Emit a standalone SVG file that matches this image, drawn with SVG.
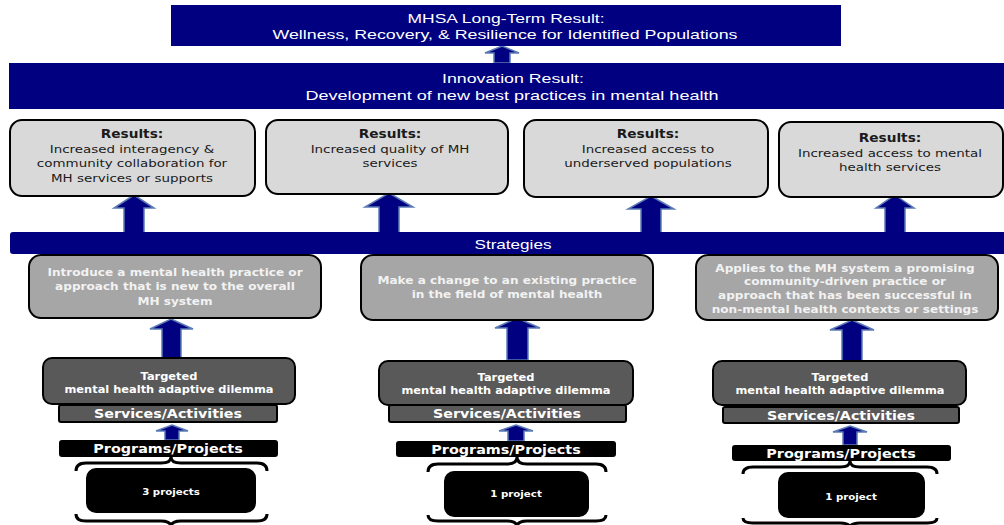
<svg xmlns="http://www.w3.org/2000/svg" width="1004" height="525" viewBox="0 0 1004 525">
<style>
.navy{fill:#000080}
.nt{fill:#ffffff;font-family:"Liberation Sans",Arial,sans-serif;font-size:13px;text-anchor:middle}
.res{fill:#d9d9d9;stroke:#000;stroke-width:2}
.rt{fill:#1a1a1a;font-family:"DejaVu Sans",sans-serif;font-size:11.3px;text-anchor:middle}
.rh{font-weight:bold;font-size:11.5px}
.str{fill:#a6a6a6;stroke:#000;stroke-width:2}
.st{fill:#f2f2f2;font-family:"DejaVu Sans",sans-serif;font-weight:bold;font-size:10px;text-anchor:middle}
.dil{fill:#595959;stroke:#000;stroke-width:2}
.dt{fill:#fff;font-family:"DejaVu Sans",sans-serif;font-weight:bold;font-size:10px;text-anchor:middle}
.svt{fill:#fff;font-family:"DejaVu Sans",sans-serif;font-weight:bold;font-size:12.5px;text-anchor:middle}
.blk{fill:#000}
.pt{fill:#fff;font-family:"DejaVu Sans",sans-serif;font-weight:bold;font-size:12.5px;text-anchor:middle}
.pj{fill:#fff;font-family:"DejaVu Sans",sans-serif;font-weight:bold;font-size:9px;text-anchor:middle}
.arr{fill:#000080;stroke:#5a7bb5;stroke-width:1.5}
.brace{fill:none;stroke:#000;stroke-width:3}
</style>

<g id="connectors">
  <path class="arr" d="M502,46 L519,53 L510,53 L510,63 L494,63 L494,53 L485,53 Z"/>
  <path class="arr" d="M134,195 L154,208 L144,208 L144,233 L124,233 L124,208 L114,208 Z"/>
  <path class="arr" d="M389,193 L413,207 L399,207 L399,233 L379,233 L379,207 L365,207 Z"/>
  <path class="arr" d="M651,196 L674,209 L661,209 L661,233 L641,233 L641,209 L628,209 Z"/>
  <path class="arr" d="M895,195 L914,208 L905,208 L905,257 L885,257 L885,208 L876,208 Z"/>
  <path class="arr" d="M171,319 L193,329 L181,329 L181,358 L162,358 L162,329 L150,329 Z"/>
  <path class="arr" d="M517,318 L540,328 L528,328 L528,360 L507,360 L507,328 L495,328 Z"/>
  <path class="arr" d="M852,320 L874,330 L862,330 L862,361 L842,361 L842,330 L830,330 Z"/>
  <path class="arr" d="M172,425 L188,431 L179,431 L179,440 L165,440 L165,431 L156,431 Z"/>
  <path class="arr" d="M516,425 L533,431 L524,431 L524,441 L508,441 L508,431 L499,431 Z"/>
  <path class="arr" d="M850,426 L867,432 L857,432 L857,445 L843,445 L843,432 L833,432 Z"/>
</g>

<g id="long-term-result">
  <rect class="navy" x="171" y="5" width="670" height="41"/>
  <text class="nt" x="506" y="23" textLength="197" lengthAdjust="spacingAndGlyphs">MHSA Long-Term Result:</text>
  <text class="nt" x="505" y="39" textLength="465" lengthAdjust="spacingAndGlyphs">Wellness, Recovery, &amp; Resilience for Identified Populations</text>
</g>

<g id="innovation-result">
  <rect class="navy" x="9" y="63" width="995" height="46"/>
  <text class="nt" x="513" y="83" textLength="142" lengthAdjust="spacingAndGlyphs">Innovation Result:</text>
  <text class="nt" x="512" y="100" textLength="413" lengthAdjust="spacingAndGlyphs">Development of new best practices in mental health</text>
</g>

<g id="result-1">
  <rect class="res" x="10" y="120" width="245" height="76" rx="12"/>
  <text class="rt rh" transform="translate(132,138) scale(1.19,1)">Results:</text>
  <text class="rt" transform="translate(132,153) scale(1.19,1)">Increased interagency &amp;</text>
  <text class="rt" transform="translate(132,167) scale(1.19,1)">community collaboration for</text>
  <text class="rt" transform="translate(132,182) scale(1.19,1)">MH services or supports</text>
</g>
<g id="result-2">
  <rect class="res" x="266" y="120" width="242" height="74" rx="12"/>
  <text class="rt rh" transform="translate(390,138) scale(1.19,1)">Results:</text>
  <text class="rt" transform="translate(390,153) scale(1.19,1)">Increased quality of MH</text>
  <text class="rt" transform="translate(390,167) scale(1.19,1)">services</text>
</g>
<g id="result-3">
  <rect class="res" x="524" y="120" width="244" height="77" rx="12"/>
  <text class="rt rh" transform="translate(648,138) scale(1.19,1)">Results:</text>
  <text class="rt" transform="translate(648,153) scale(1.19,1)">Increased access to</text>
  <text class="rt" transform="translate(648,167) scale(1.19,1)">underserved populations</text>
</g>
<g id="result-4">
  <rect class="res" x="779" y="122" width="224" height="75" rx="12"/>
  <text class="rt rh" transform="translate(890,142) scale(1.19,1)">Results:</text>
  <text class="rt" transform="translate(890,157) scale(1.19,1)">Increased access to mental</text>
  <text class="rt" transform="translate(890,171) scale(1.19,1)">health services</text>
</g>

<g id="strategies">
  <rect class="navy" x="10" y="232" width="1000" height="22" rx="3"/>
  <text class="nt" x="513" y="249" textLength="77" lengthAdjust="spacingAndGlyphs">Strategies</text>
</g>

<g id="strategy-1">
  <rect class="str" x="29" y="255" width="292" height="63" rx="12"/>
  <text class="st" transform="translate(175,276) scale(1.21,1)">Introduce a mental health practice or</text>
  <text class="st" transform="translate(175,290) scale(1.21,1)">approach that is new to the overall</text>
  <text class="st" transform="translate(175,305) scale(1.21,1)">MH system</text>
</g>
<g id="strategy-2">
  <rect class="str" x="361" y="255" width="292" height="65" rx="12"/>
  <text class="st" transform="translate(507,284) scale(1.21,1)">Make a change to an existing practice</text>
  <text class="st" transform="translate(507,298) scale(1.21,1)">in the field of mental health</text>
</g>
<g id="strategy-3">
  <rect class="str" x="696" y="255" width="302" height="65" rx="12"/>
  <text class="st" transform="translate(845,272) scale(1.21,1)">Applies to the MH system a promising</text>
  <text class="st" transform="translate(845,285) scale(1.21,1)">community-driven practice or</text>
  <text class="st" transform="translate(845,299) scale(1.21,1)">approach that has been successful in</text>
  <text class="st" transform="translate(845,313) scale(1.21,1)">non-mental health contexts or settings</text>
</g>

<g id="dilemma-1">
  <rect class="dil" x="43" y="358" width="252" height="46" rx="9"/>
  <text class="dt" transform="translate(169,380) scale(1.14,1)">Targeted</text>
  <text class="dt" transform="translate(169,393) scale(1.14,1)">mental health adaptive dilemma</text>
</g>
<g id="dilemma-2">
  <rect class="dil" x="379" y="361" width="254" height="44" rx="9"/>
  <text class="dt" transform="translate(506,381) scale(1.14,1)">Targeted</text>
  <text class="dt" transform="translate(506,394) scale(1.14,1)">mental health adaptive dilemma</text>
</g>
<g id="dilemma-3">
  <rect class="dil" x="713" y="361" width="253" height="44" rx="9"/>
  <text class="dt" transform="translate(840,381) scale(1.14,1)">Targeted</text>
  <text class="dt" transform="translate(840,394) scale(1.14,1)">mental health adaptive dilemma</text>
</g>

<g id="services-1">
  <rect class="dil" x="59" y="405" width="218" height="17" rx="2"/>
  <text class="svt" transform="translate(168,418) scale(1.14,1)">Services/Activities</text>
</g>
<g id="services-2">
  <rect class="dil" x="389" y="405" width="237" height="17" rx="2"/>
  <text class="svt" transform="translate(507,418) scale(1.14,1)">Services/Activities</text>
</g>
<g id="services-3">
  <rect class="dil" x="723" y="407" width="236" height="16" rx="2"/>
  <text class="svt" transform="translate(841,420) scale(1.14,1)">Services/Activities</text>
</g>

<g id="programs-1">
  <rect class="blk" x="59" y="440" width="219" height="17" rx="3"/>
  <text class="pt" transform="translate(168,453) scale(1.15,1)">Programs/Projects</text>
</g>
<g id="programs-2">
  <rect class="blk" x="396" y="441" width="220" height="16" rx="3"/>
  <text class="pt" transform="translate(506,454) scale(1.15,1)">Programs/Projects</text>
</g>
<g id="programs-3">
  <rect class="blk" x="732" y="445" width="219" height="16" rx="3"/>
  <text class="pt" transform="translate(841,458) scale(1.15,1)">Programs/Projects</text>
</g>

<g id="projects-1">
  <path class="brace" d="M76,471 Q76,463 86,463 L161,463 Q171,463 171,457 Q171,463 181,463 L257,463 Q267,463 267,471"/>
  <rect class="blk" x="86" y="468" width="170" height="45" rx="10"/>
  <text class="pj" transform="translate(171,495) scale(1.14,1)">3 projects</text>
  <path class="brace" d="M76,514 Q76,521 86,521 L161,521 Q171,521 171,527 Q171,521 181,521 L257,521 Q267,521 267,514"/>
</g>
<g id="projects-2">
  <path class="brace" d="M428,472 Q428,464 438,464 L507,464 Q517,464 517,457 Q517,464 527,464 L596,464 Q606,464 606,472"/>
  <rect class="blk" x="444" y="471" width="145" height="46" rx="10"/>
  <text class="pj" transform="translate(516,497) scale(1.14,1)">1 project</text>
  <path class="brace" d="M428,515 Q428,521 438,521 L507,521 Q517,521 517,527 Q517,521 527,521 L596,521 Q606,521 606,515"/>
</g>
<g id="projects-3">
  <path class="brace" d="M743,474 Q743,467 753,467 L840,467 Q850,467 850,461 Q850,467 860,467 L927,467 Q937,467 937,474"/>
  <rect class="blk" x="778" y="472" width="147" height="46" rx="10"/>
  <text class="pj" transform="translate(851,500) scale(1.14,1)">1 project</text>
  <path class="brace" d="M743,518 Q743,523 753,523 L840,523 Q850,523 850,528 Q850,523 860,523 L927,523 Q937,523 937,518"/>
</g>
</svg>
